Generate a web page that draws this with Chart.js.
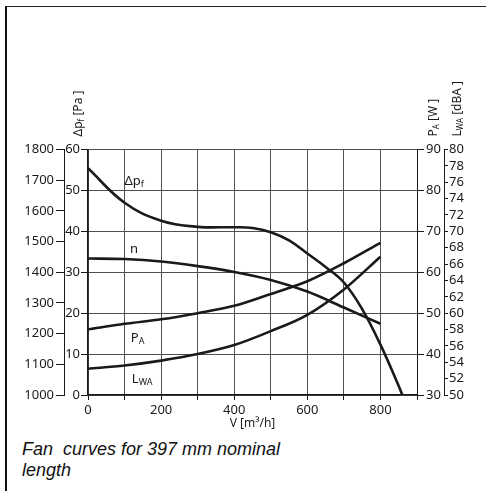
<!DOCTYPE html>
<html>
<head>
<meta charset="utf-8">
<script src="https://cdn.jsdelivr.net/npm/chart.js@4.4.1/dist/chart.umd.min.js"></script>
<style>
  html, body { margin: 0; padding: 0; background: #fff; }
  body { width: 486px; height: 491px; position: relative; overflow: hidden; }
  #frame { position: absolute; left: 5px; top: 6px; width: 500px; height: 500px;
           border-left: 2px solid #111; border-top: 1px solid #222; }
  #chartBox { position: absolute; left: 8px; top: 9px; }
  #caption { position: absolute; left: 22px; top: 439px; color: #111; white-space: pre;
             font: italic 18px "Liberation Sans", Arial, sans-serif; line-height: 21px; }
</style>
</head>
<body>
<div id="frame"></div>
<div id="chartBox"><canvas id="fanChart" width="470" height="422"></canvas></div>
<div id="caption">Fan  curves for 397 mm nominal
length</div>
<script>
// volume flow V [m3/h]
var flow = [0, 100, 200, 300, 400, 500, 600, 700, 800];
var pressureFlow = [0, 100, 200, 300, 400, 450, 500, 550, 600, 650, 700, 750, 800, 850, 860];
// static pressure dpf [Pa]
var pressure = [55.4, 47.0, 42.6, 41.1, 41.0, 40.8, 39.8, 37.8, 34.6, 31.3, 27.5, 21.0, 12.3, 2.2, 0];
// speed n [1/min]
var speed = [1445, 1443, 1435, 1420, 1401, 1375, 1337, 1285, 1232];
// power PA [W]
var power = [46.0, 47.4, 48.5, 50.0, 51.8, 54.7, 57.8, 62.2, 67.2];
// sound power LWA [dB(A)]
var sound = [53.2, 53.6, 54.2, 55.0, 56.1, 57.8, 59.8, 62.9, 66.9];
// labelled flow ticks
var flowLabels = [0, 200, 400, 600, 800];

function toPoints(xs, ys) {
  return xs.map(function (x, i) { return { x: x, y: ys[i] }; });
}

var narrow = "'Noto Sans', 'DejaVu Sans', sans-serif";
var stretch = 'condensed';
var tickFont = { family: narrow, size: 13, style: stretch };
var ink = '#1a1a1a';

// draws text pieces one after another, subscripts smaller and lower
function drawRuns(ctx, runs, x, y) {
  var pos = x;
  runs.forEach(function (r) {
    ctx.font = stretch + ' ' + (r.size || 13) + 'px ' + narrow;
    ctx.fillText(r.t, pos, y + (r.dy || 0));
    pos += ctx.measureText(r.t).width;
  });
}

var notesPlugin = {
  id: 'notes',
  afterDatasetsDraw: function (chart) {
    var ctx = chart.ctx;
    var sx = chart.scales.x, sy = chart.scales.yP;
    ctx.save();
    ctx.fillStyle = ink;
    ctx.textAlign = 'left';
    ctx.textBaseline = 'alphabetic';
    // curve names inside the plot
    var notes = [
      { x: 100, y: 51.3, runs: [{ t: 'Δp' }, { t: 'f', size: 9, dy: 2 }] },
      { x: 115, y: 34.7, runs: [{ t: 'n' }] },
      { x: 117, y: 13.0, runs: [{ t: 'P' }, { t: 'A', size: 9, dy: 2 }] },
      { x: 120, y: 2.9, runs: [{ t: 'L' }, { t: 'WA', size: 9, dy: 2 }] }
    ];
    notes.forEach(function (n) {
      drawRuns(ctx, n.runs, sx.getPixelForValue(n.x), sy.getPixelForValue(n.y));
    });
    // rotated axis titles above the vertical axes
    var top = chart.chartArea.top;
    var titles = [
      { x: chart.scales.yP.right - 6, runs: [{ t: 'Δp', size: 12 }, { t: 'f', size: 8, dy: 2 }, { t: ' [Pa ]', size: 12 }] },
      { x: chart.scales.yW.left + 20, runs: [{ t: 'P', size: 12 }, { t: 'A', size: 8, dy: 2 }, { t: ' [W ]', size: 12 }] },
      { x: chart.scales.yL.left + 17, runs: [{ t: 'L', size: 12 }, { t: 'WA', size: 8, dy: 2 }, { t: ' [dBA ]', size: 12 }] }
    ];
    titles.forEach(function (t) {
      ctx.save();
      ctx.translate(t.x, top - 13);
      ctx.rotate(-Math.PI / 2);
      drawRuns(ctx, t.runs, 0, 0);
      ctx.restore();
    });
    ctx.restore();
  }
};

function curve(label, xs, ys, axis, smooth) {
  var ds = {
    label: label,
    data: toPoints(xs, ys),
    yAxisID: axis,
    borderColor: ink,
    borderWidth: 2.6,
    pointRadius: 0,
    fill: false
  };
  if (smooth) { ds.tension = 0.4; } else { ds.cubicInterpolationMode = 'monotone'; }
  return ds;
}

function plain(v) { return String(v); }

var ctx = document.getElementById('fanChart');
var fanChart = new Chart(ctx, {
  type: 'line',
  data: {
    datasets: [
      curve('Δpf', pressureFlow, pressure, 'yP', true),
      curve('n', flow, speed, 'yN'),
      curve('PA', flow, power, 'yW'),
      curve('LWA', flow, sound, 'yL')
    ]
  },
  options: {
    responsive: false,
    animation: false,
    layout: { padding: { top: 140.5, right: 4, left: 0, bottom: 0 } },
    plugins: { legend: { display: false }, tooltip: { enabled: false } },
    scales: {
      x: {
        type: 'linear', position: 'bottom', min: 0, max: 900,
        ticks: {
          stepSize: 100, autoSkip: false, maxRotation: 0, padding: 2, color: ink, font: tickFont,
          callback: function (v) { return flowLabels.indexOf(v) >= 0 ? String(v) : ''; }
        },
        grid: { color: '#505050', lineWidth: 1, tickLength: 5, tickColor: ink },
        border: { color: ink, width: 1.5 },
        title: { display: true, text: 'V [m³/h]', color: ink, font: { family: narrow, size: 12, style: stretch }, padding: 0 },
        afterFit: function (s) { s.height = 36; }
      },
      yP: {
        position: 'left', weight: 0, min: 0, max: 60,
        ticks: { stepSize: 10, padding: 1, color: ink, font: tickFont, callback: plain },
        grid: { color: '#505050', lineWidth: 1, tickLength: 7, tickColor: ink },
        border: { color: ink, width: 1.5 },
        afterFit: function (s) { s.width = 24; }
      },
      yN: {
        position: 'left', weight: 1, min: 1000, max: 1800,
        ticks: { stepSize: 100, padding: 2, color: ink, font: tickFont, callback: plain },
        grid: { drawOnChartArea: false, tickLength: 8, color: ink },
        border: { color: ink, width: 1 },
        afterFit: function (s) { s.width = 56; }
      },
      yW: {
        position: 'right', weight: 0, min: 30, max: 90,
        ticks: { stepSize: 10, padding: 2, color: ink, font: tickFont, callback: plain },
        grid: { drawOnChartArea: false, tickLength: 7, color: ink },
        border: { color: ink, width: 1 },
        afterFit: function (s) { s.width = 27; }
      },
      yL: {
        position: 'right', weight: 1, min: 50, max: 80,
        ticks: { stepSize: 2, padding: 1, autoSkip: false, color: ink, font: tickFont, callback: plain },
        grid: { drawOnChartArea: false, tickLength: 4, color: ink },
        border: { color: ink, width: 1 },
        afterFit: function (s) { s.width = 30; }
      }
    }
  },
  plugins: [notesPlugin]
});
</script>
</body>
</html>
